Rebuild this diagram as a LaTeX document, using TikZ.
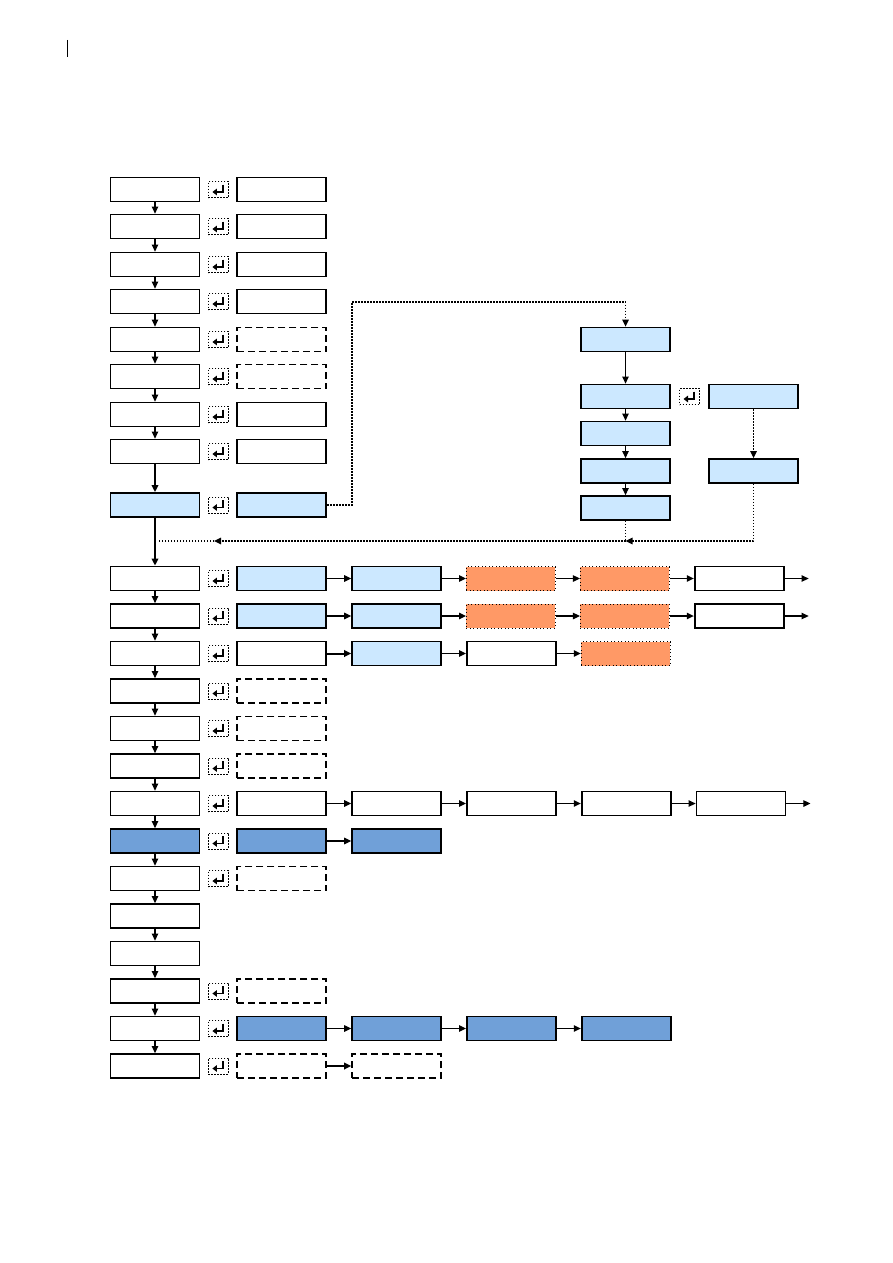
\documentclass[tikz,border=0pt]{standalone}
\usetikzlibrary{arrows.meta,calc,positioning}

\definecolor{paleblue}{RGB}{204,232,255}
\definecolor{midblue}{RGB}{112,160,216}
\definecolor{salmon}{RGB}{255,153,102}

\begin{document}
\begin{tikzpicture}[x=1pt,y=-1pt,>={Triangle[length=7pt,width=6.5pt]},
    box/.style={draw,line width=1.8pt,minimum width=89pt,minimum height=24pt,inner sep=0pt},
    lbbox/.style={box,fill=paleblue},
    bbbox/.style={box,fill=midblue},
    dbox/.style={box,dash pattern=on 7pt off 4pt},
    obox/.style={box,fill=salmon,line width=0.9pt,dash pattern=on 1pt off 2.5pt},
    keybox/.style={draw,line width=1pt,dash pattern=on 1.8pt off 1.2pt,
      minimum width=20pt,minimum height=16pt,inner sep=0pt,
      path picture={\draw[solid,line width=1.6pt,-{Triangle[length=4.5pt,width=6.5pt]}]
        ([xshift=4.5pt,yshift=5pt]path picture bounding box.center) --
        ([xshift=4.5pt,yshift=-2.5pt]path picture bounding box.center) --
        ([xshift=-6pt,yshift=-2.5pt]path picture bounding box.center);}},
    link/.style={->,line width=1.1pt},
    blink/.style={->,line width=2pt},
    dlink/.style={->,line width=1.3pt,dash pattern=on 1.5pt off 1.5pt}]
  \useasboundingbox (0,0) rectangle (893,1263);

  % margin mark
  \draw[line width=1pt] (67,40) -- (67,57);

  % main column
  \foreach \i/\y/\s in {1/189.5/box,2/226.5/box,3/264.5/box,4/301.5/box,
      5/339.5/box,6/376.5/box,7/414.5/box,8/451.5/box,9/505/lbbox,
      10/578.5/box,11/616/box,12/653.5/box,13/691/box,14/728.5/box,
      15/766/box,16/803.5/box,17/841/bbbox,18/878.5/box,19/916/box,
      20/953.5/box,21/991/box,22/1028.5/box,23/1066/box}
    \node[\s] (m\i) at (155,\y) {};
  \foreach \i [evaluate=\i as \j using int(\i+1)] in {1,...,7,10,11,...,22}
    \draw[link] (m\i) -- (m\j);
  \draw[blink] (m8) -- (m9);
  \draw[blink] (m9) -- (m10);

  % second column
  \foreach \i/\s in {1/box,2/box,3/box,4/box,5/dbox,6/dbox,7/box,8/box,
      9/lbbox,10/lbbox,11/lbbox,12/box,13/dbox,14/dbox,15/dbox,16/box,
      17/bbbox,18/dbox,21/dbox,22/bbbox,23/dbox}
    \node[\s,right=36pt of m\i] (s\i) {};
  \foreach \i in {1,...,18,21,22,23}
    \node[keybox] (k\i) at ($(m\i.east)!0.5!(s\i.west)$) {};

  % row 10
  \node[lbbox,right=24pt of s10] (t10) {};
  \node[obox,right=24pt of t10] (u10) {};
  \node[obox,right=24pt of u10] (v10) {};
  \node[box,right=24pt of v10] (w10) {};
  \coordinate[right=24pt of w10] (e10);
  \draw[link] (s10) -- (t10);
  \draw[link] (t10) -- (u10);
  \draw[link] (u10) -- (v10);
  \draw[link] (v10) -- (w10);
  \draw[link] (w10) -- (e10);

  % row 11
  \node[lbbox,right=24pt of s11] (t11) {};
  \node[obox,right=24pt of t11] (u11) {};
  \node[obox,right=24pt of u11] (v11) {};
  \node[box,right=24pt of v11] (w11) {};
  \coordinate[right=24pt of w11] (e11);
  \draw[link] (s11) -- (t11);
  \draw[link] (t11) -- (u11);
  \draw[link] (u11) -- (v11);
  \draw[link] (v11) -- (w11);
  \draw[link] (w11) -- (e11);

  % row 12
  \node[lbbox,right=24pt of s12] (t12) {};
  \node[box,right=24pt of t12] (u12) {};
  \node[obox,right=24pt of u12] (v12) {};
  \draw[blink] (s12) -- (t12);
  \draw[link] (t12) -- (u12);
  \draw[link] (u12) -- (v12);

  % row 16
  \node[box,right=24pt of s16] (t16) {};
  \node[box,right=24pt of t16] (u16) {};
  \node[box,right=24pt of u16] (v16) {};
  \node[box,right=24pt of v16] (w16) {};
  \coordinate[right=24pt of w16] (e16);
  \draw[link] (s16) -- (t16);
  \draw[link] (t16) -- (u16);
  \draw[link] (u16) -- (v16);
  \draw[link] (v16) -- (w16);
  \draw[link] (w16) -- (e16);

  % row 17
  \node[bbbox,right=24pt of s17] (t17) {};
  \draw[link] (s17) -- (t17);

  % row 22
  \node[bbbox,right=24pt of s22] (t22) {};
  \node[bbbox,right=24pt of t22] (u22) {};
  \node[bbbox,right=24pt of u22] (v22) {};
  \draw[link] (s22) -- (t22);
  \draw[link] (t22) -- (u22);
  \draw[link] (u22) -- (v22);

  % row 23
  \node[dbox,right=24pt of s23] (t23) {};
  \draw[blink] (s23) -- (t23);

  % branch on the right
  \node[lbbox] (ra) at (625.5,339.5) {};
  \node[lbbox] (rb) at (625.5,396.5) {};
  \node[lbbox] (rd) at (625.5,433.5) {};
  \node[lbbox] (re) at (625.5,471) {};
  \node[lbbox] (rf) at (625.5,508) {};
  \node[lbbox] (rc) at (753.5,396.5) {};
  \node[lbbox] (rg) at (753.5,471) {};
  \node[keybox] (rk) at ($(rb.east)!0.5!(rc.west)$) {};
  \draw[link] (ra) -- (rb);
  \draw[link] (rb) -- (rd);
  \draw[link] (rd) -- (re);
  \draw[link] (re) -- (rf);
  \draw[dlink] (rc) -- (rg);

  % dotted jump out and back
  \coordinate (turn) at (352,302);
  \coordinate (merge) at (157,541);
  \coordinate (back) at (214,541);
  \draw[dlink] (s9.east) -| (turn) -| (ra.north);
  \draw[dlink] (rg.south) |- (rf.south |- merge);
  \draw[dlink,-] (rf.south) -- (rf.south |- merge);
  \draw[dlink] (rf.south |- merge) -- (back);
  \draw[dlink,-] (back) -- (merge);
\end{tikzpicture}
\end{document}
